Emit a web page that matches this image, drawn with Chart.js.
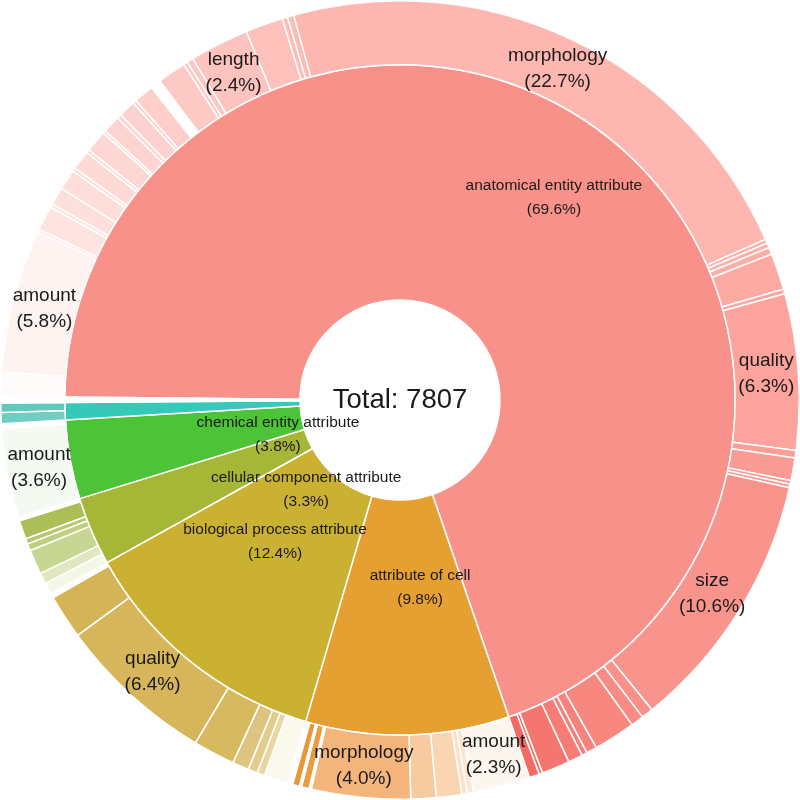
<!DOCTYPE html>
<html>
<head>
<meta charset="utf-8">
<script src="https://cdn.jsdelivr.net/npm/chart.js@4.4.1/dist/chart.umd.min.js"></script>
<style>
  html, body { margin: 0; padding: 0; background: #ffffff; }
  #sunburst { display: block; }
</style>
</head>
<body>
<canvas id="sunburst" width="800" height="800"></canvas>
<script>
// inner ring: top level categories (clockwise from 9 o'clock)
const innerLabels = [
  'anatomical entity attribute',
  'attribute of cell',
  'biological process attribute',
  'cellular component attribute',
  'chemical entity attribute',
  '',
  ''
]
const innerValues = [5434, 765, 968, 258, 297, 65, 20]

// outer ring: children, in the same clockwise order (unnamed = too small to label)
const outerLabels = [
  // anatomical entity attribute
  '', 'amount', '', '', '', '', '', '', '', '', '', '', '', '', '', '', '', '', '', '', '',
  'length', '', '', '', 'morphology', '', '', '', '', '', 'quality', '', '', '', '',
  'size', '', '', '', '', '', '', '', '', '',
  // attribute of cell
  'amount', '', '', '', '', 'morphology', '', '', '', '', '',
  // biological process attribute
  '', '', '', '', '', 'quality', '', '',
  // cellular component attribute
  '', '', '', '', '', '', '',
  // chemical entity attribute
  'amount', '',
  // rest
  '', '', ''
]
const outerValues = [
  76, 453, 9, 78, 11, 56, 65, 11, 61, 11, 69, 9, 56, 13, 54, 11, 63, 33, 91, 13, 20,
  187, 119, 17, 20, 1772, 13, 15, 22, 115, 15, 492, 24, 72, 11, 11,
  828, 37, 41, 132, 33, 17, 46, 89, 11, 32,
  180, 20, 17, 80, 80, 312, 7, 24, 7, 22, 16,
  76, 24, 30, 52, 132, 500, 140, 14,
  36, 35, 78, 22, 17, 59, 11,
  281, 16,
  35, 30, 20
]

// colours
const innerColors = ['#f8918a', '#e6a032', '#cab132', '#a6b637', '#4dc338', '#35c9b9', '#ffffff']
const outerColors = [
  '#fffbfa', '#fff3f1', '#fde5e2', '#fde4e0', '#fde1dd', '#fde0dc', '#fddeda', '#fddcd8', '#fddad6',
  '#fdd9d5', '#fdd7d3', '#fdd6d2', '#fdd4d0', '#fdd3cf', '#fdd1cd', '#fdd0cc', '#fdcecA', '#ffffff',
  '#fdc9c4', '#fdc7c2', '#fdc6c1',
  '#fdc3be', '#fdc0ba', '#fdbdb7', '#fdbbb5', '#fdb7b0', '#fcb2ab', '#fcb0a9', '#fcaea7', '#fcaaa3',
  '#fca7a0', '#fba39c', '#fa9f98', '#fa9c95', '#fa9992', '#f99790',
  '#f9948d', '#f99089', '#f88c85', '#f8877f', '#f7827b', '#f7807a', '#f67c75', '#f57670', '#f4716b', '#f26a63',
  '#fdf6ee', '#fbe6d1', '#fae1c8', '#f9d5b2', '#f8caa0', '#f4b57c', '#ffffff', '#ea9c40', '#ffffff', '#e8973a', '#ffffff',
  '#fbf8ee', '#e8d7a4', '#e2cd8f', '#ddc580', '#d7b960', '#d6b55b', '#d5b357', '#ffffff',
  '#f3f7e6', '#dfe8c0', '#c8d693', '#bfce80', '#b8c872', '#abbe57', '#ffffff',
  '#f4faf1', '#ffffff',
  '#70cdc2', '#5fc9bc', '#ffffff'
]

const fontes = '"Liberation Sans", Arial, sans-serif'
const letterColor = '#1a1a1a'
// where the inner labels sit: [degrees clockwise from 12 o'clock, radius]
const innerLabelAt = [[37.3, 254], [173.9, 189], [221.4, 189], [226.2, 130], [254.0, 127], null, null]

document.addEventListener('DOMContentLoaded', function () {
  const total = innerValues.reduce((a, b) => a + b, 0)

  const labelPlugin = {
    id: 'sunLabels',
    afterDatasetsDraw(chart) {
      const ctx = chart.ctx
      ctx.save()
      ctx.fillStyle = letterColor
      ctx.textAlign = 'center'
      ctx.textBaseline = 'middle'

      // outer ring labels at the middle of their slice
      ctx.font = '19px ' + fontes
      chart.getDatasetMeta(0).data.forEach((arc, i) => {
        if (!outerLabels[i]) return
        const p = arc.getProps(['x', 'y', 'startAngle', 'endAngle', 'innerRadius', 'outerRadius'], true)
        const mid = (p.startAngle + p.endAngle) / 2
        const r = (p.innerRadius + p.outerRadius) / 2
        const x = p.x + Math.cos(mid) * r
        const y = p.y + Math.sin(mid) * r
        ctx.fillText(outerLabels[i], x, y - 13)
        ctx.fillText('(' + (outerValues[i] / total * 100).toFixed(1) + '%)', x, y + 13)
      })

      // inner ring labels
      ctx.font = '15.5px ' + fontes
      const centre = chart.getDatasetMeta(1).data[0].getProps(['x', 'y'], true)
      innerLabels.forEach((name, i) => {
        if (!name || !innerLabelAt[i]) return
        const a = (innerLabelAt[i][0] - 90) * Math.PI / 180
        const x = centre.x + Math.cos(a) * innerLabelAt[i][1]
        const y = centre.y + Math.sin(a) * innerLabelAt[i][1]
        ctx.fillText(name, x, y - 12)
        ctx.fillText('(' + (innerValues[i] / total * 100).toFixed(1) + '%)', x, y + 12)
      })

      ctx.font = '27.5px ' + fontes
      ctx.fillText('Total: ' + total, centre.x, centre.y)
      ctx.restore()
    }
  }

  const ctxSun = document.getElementById('sunburst').getContext('2d')
  new Chart(ctxSun, {
    type: 'doughnut',
    data: {
      labels: outerLabels,
      datasets: [
        {
          label: 'children',
          data: outerValues,
          backgroundColor: outerColors,
          weight: 64
        },
        {
          label: 'categories',
          data: innerValues,
          backgroundColor: innerColors,
          weight: 235
        }
      ]
    },
    options: {
      responsive: false,
      animation: false,
      rotation: -89.5,
      cutout: 100,
      layout: { padding: 0 },
      elements: {
        arc: {
          borderColor: '#ffffff',
          borderWidth: 1.5,
          hoverOffset: 0
        }
      },
      plugins: {
        legend: { display: false },
        tooltip: { enabled: false }
      }
    },
    plugins: [labelPlugin]
  })
})
</script>
</body>
</html>
